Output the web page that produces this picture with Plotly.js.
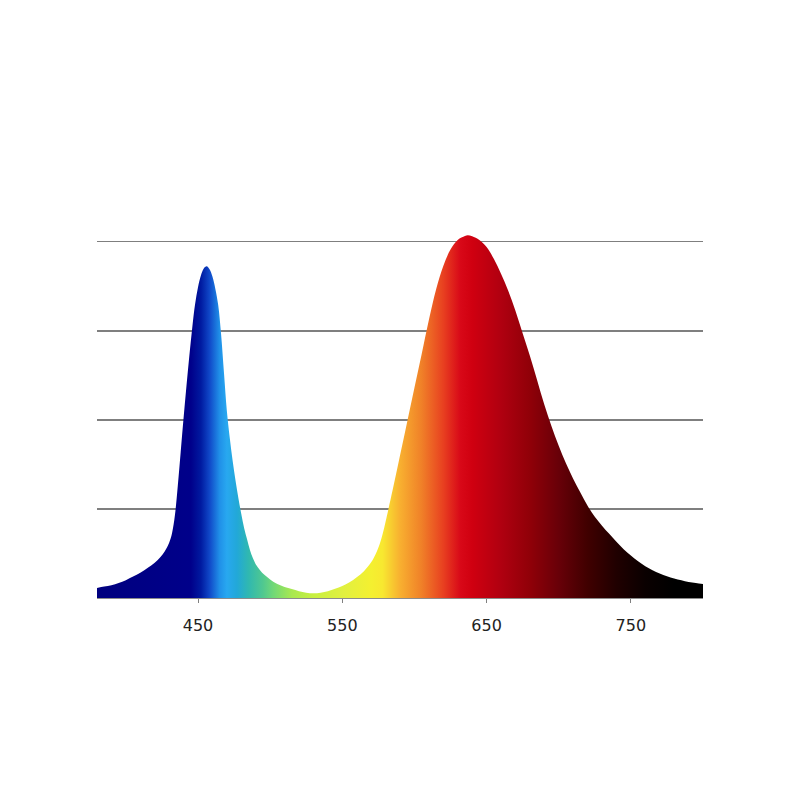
<!DOCTYPE html>
<html>
<head>
<meta charset="utf-8">
<script src="https://cdn.plot.ly/plotly-3.0.1.min.js"></script>
<style>html,body{margin:0;padding:0;background:#fff;}#chart{width:800px;height:800px;}</style>
</head>
<body>
<div id="chart"></div>
<script>
// Wavelength (nm) and relative intensity
var wavelength = [380,385,390,395,400,405,410,415,420,424,427,430,432,434,436,438,440,442,444,446,448,450,452,454,456,458,460,462,464,466,468,470,472,474,476,478,480,482,484,486,488,490,493,496,500,505,510,515,520,525,530,535,540,545,550,555,560,565,570,573,576,578,580,582,585,590,595,600,605,610,615,620,625,630,635,637,640,645,650,655,660,665,670,675,680,685,690,695,700,705,710,715,720,725,730,735,740,745,750,755,760,765,770,775,780,785,790,795,800];
var intensity  = [0.028,0.032,0.036,0.042,0.050,0.060,0.071,0.084,0.099,0.115,0.131,0.155,0.182,0.232,0.315,0.410,0.505,0.595,0.680,0.758,0.825,0.872,0.905,0.925,0.931,0.923,0.902,0.868,0.822,0.740,0.632,0.525,0.450,0.385,0.330,0.280,0.236,0.196,0.165,0.135,0.112,0.095,0.078,0.065,0.052,0.039,0.031,0.025,0.019,0.015,0.013,0.015,0.019,0.026,0.034,0.044,0.058,0.075,0.100,0.122,0.152,0.180,0.214,0.250,0.305,0.400,0.495,0.590,0.684,0.780,0.866,0.932,0.978,1.005,1.016,1.018,1.015,1.005,0.985,0.952,0.910,0.862,0.806,0.743,0.680,0.612,0.543,0.482,0.427,0.378,0.335,0.296,0.259,0.228,0.203,0.180,0.158,0.137,0.119,0.103,0.089,0.078,0.069,0.061,0.055,0.050,0.045,0.042,0.039];

// Spectrum colours along the wavelength axis
var colorStopsNm = [380,445,452,458,465,470,477,485,495,502,515,530,550,570,578,590,605,620,632,640,660,680,700,720,740,760,780,800];
var colorStopsHex = ['#00007f','#00008a','#001aa0','#1048c8','#2090e8','#28a8f0','#22a8d8','#30b8b0','#50c890','#70d878','#a8e850','#c8f040','#e0f040','#f4f030','#f8e830','#f8b030','#f08028','#e84020','#d80818','#d00010','#b00010','#900008','#680008','#400000','#200000','#0a0000','#000000','#000000'];

var tickValues = [450,550,650,750];
var tickLabels = ['450','550','650','750'];

var xMin = 380, xMax = 800;
var colorscale = colorStopsNm.map(function(w,i){ return [(w - xMin)/(xMax - xMin), colorStopsHex[i]]; });

var trace = {
  x: wavelength,
  y: intensity,
  type: 'scatter',
  mode: 'lines',
  line: {width: 0, shape: 'spline', smoothing: 1},
  fill: 'tozeroy',
  fillgradient: {type: 'horizontal', colorscale: colorscale, start: xMin, stop: xMax},
  hoverinfo: 'skip',
  showlegend: false
};

var layout = {
  width: 800, height: 800,
  margin: {l: 97, r: 97, t: 231, b: 202, pad: 0},
  paper_bgcolor: '#ffffff',
  plot_bgcolor: '#ffffff',
  showlegend: false,
  xaxis: {
    range: [xMin, xMax],
    tickmode: 'array', tickvals: tickValues, ticktext: tickLabels,
    ticks: 'outside', ticklen: 4, tickcolor: '#808080', tickwidth: 1,
    ticklabelstandoff: 9,
    showgrid: false, zeroline: false,
    showline: true, linecolor: '#8c8c8c', linewidth: 1,
    tickfont: {family: 'DejaVu Sans', size: 16, color: '#222222'},
    fixedrange: true
  },
  yaxis: {
    range: [0, 1.03],
    tickmode: 'array', tickvals: [0.25, 0.5, 0.75, 1.0],
    showticklabels: false, ticks: '',
    showgrid: true, gridcolor: '#7f7f7f', gridwidth: 1.5,
    zeroline: false, showline: false,
    fixedrange: true
  }
};

Plotly.newPlot('chart', [trace], layout, {staticPlot: true, displayModeBar: false});
</script>
</body>
</html>
